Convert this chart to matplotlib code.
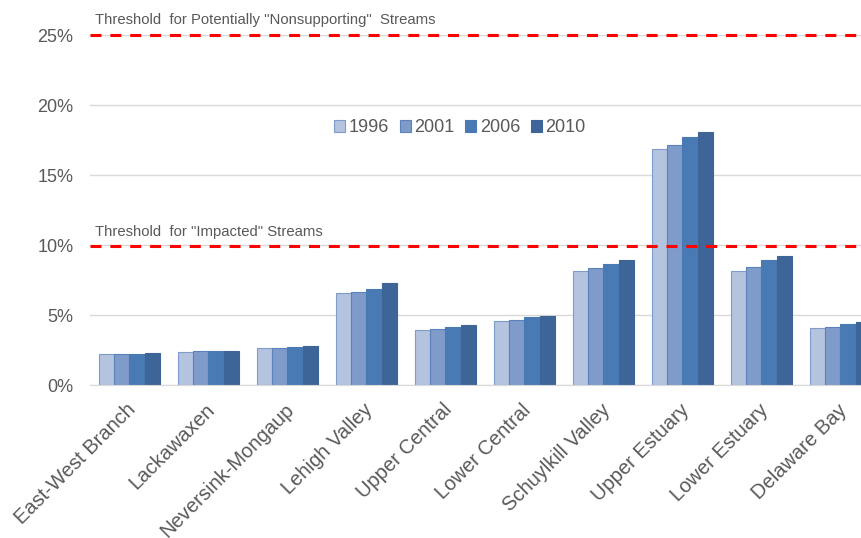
import matplotlib
matplotlib.use("Agg")
import matplotlib.pyplot as plt
import numpy as np

plt.rcParams["font.family"] = ["Liberation Sans", "DejaVu Sans"]

regions = ["East-West Branch", "Lackawaxen", "Neversink-Mongaup", "Lehigh Valley",
           "Upper Central", "Lower Central", "Schuylkill Valley", "Upper Estuary",
           "Lower Estuary", "Delaware Bay"]
years = ["1996", "2001", "2006", "2010"]
v1996 = [2.19, 2.38, 2.64, 6.57, 3.90, 4.59, 8.14, 16.86, 8.14, 4.05]
v2001 = [2.19, 2.40, 2.65, 6.64, 3.98, 4.66, 8.36, 17.16, 8.45, 4.12]
v2006 = [2.18, 2.45, 2.74, 6.86, 4.12, 4.86, 8.64, 17.71, 8.90, 4.38]
v2010 = [2.26, 2.45, 2.79, 7.26, 4.31, 4.93, 8.90, 18.10, 9.19, 4.48]
thresholds = [25.0, 9.9]
threshold_labels = ['Threshold  for Potentially "Nonsupporting"  Streams',
                    'Threshold  for "Impacted" Streams']

colors = ["#B4C4DF", "#7F9BC9", "#4A7AB3", "#3D6597"]
edges = ["#7F9BC9", "#5B82BD", "#4A7AB3", "#3D6597"]

fig = plt.figure(figsize=(8.62, 5.38), dpi=100)
# axes runs past the right edge, like the cropped original
ax = fig.add_axes([90 / 862, 153 / 538, 790 / 862, 350 / 538])

x = np.arange(len(regions))
w = 0.193
for k, (vals, yr) in enumerate(zip([v1996, v2001, v2006, v2010], years)):
    ax.bar(x + (k - 1.5) * w, vals, w, color=colors[k], edgecolor=edges[k],
           linewidth=0.8, label=yr, zorder=2)

for t, lab in zip(thresholds, threshold_labels):
    ax.axhline(t, color="#FF0000", lw=2.2, linestyle=(0, (3.6, 2.9)), zorder=3, clip_on=False)
    ax.text(-0.44, t + 0.55, lab, fontsize=10.7, color="#595959", va="bottom", ha="left")

ax.set_xlim(-0.5, 9.5)
ax.set_ylim(0, 25)
ax.set_yticks([0, 5, 10, 15, 20, 25])
ax.set_yticklabels([f"{v}%" for v in [0, 5, 10, 15, 20, 25]])
ax.yaxis.grid(True, color="#D9D9D9", lw=1, zorder=0)
ax.set_axisbelow(True)
for s in ["top", "right", "left"]:
    ax.spines[s].set_visible(False)
ax.spines["bottom"].set_color("#D9D9D9")
ax.tick_params(axis="y", length=0, labelsize=13, labelcolor="#595959", pad=12)
ax.tick_params(axis="x", length=0, labelsize=14.5, labelcolor="#595959", pad=11)
ax.set_xticks(x - 0.04)
ax.set_xticklabels(regions, rotation=45, ha="right", rotation_mode="anchor")

ax.legend(loc="center", bbox_to_anchor=((460 - 90) / 790, (385 - 128) / 350), ncol=4, frameon=False,
          fontsize=13, handlelength=0.6, handleheight=0.6, handletextpad=0.2,
          columnspacing=0.6, labelcolor="#595959")

fig.savefig("out.png", dpi=100)
